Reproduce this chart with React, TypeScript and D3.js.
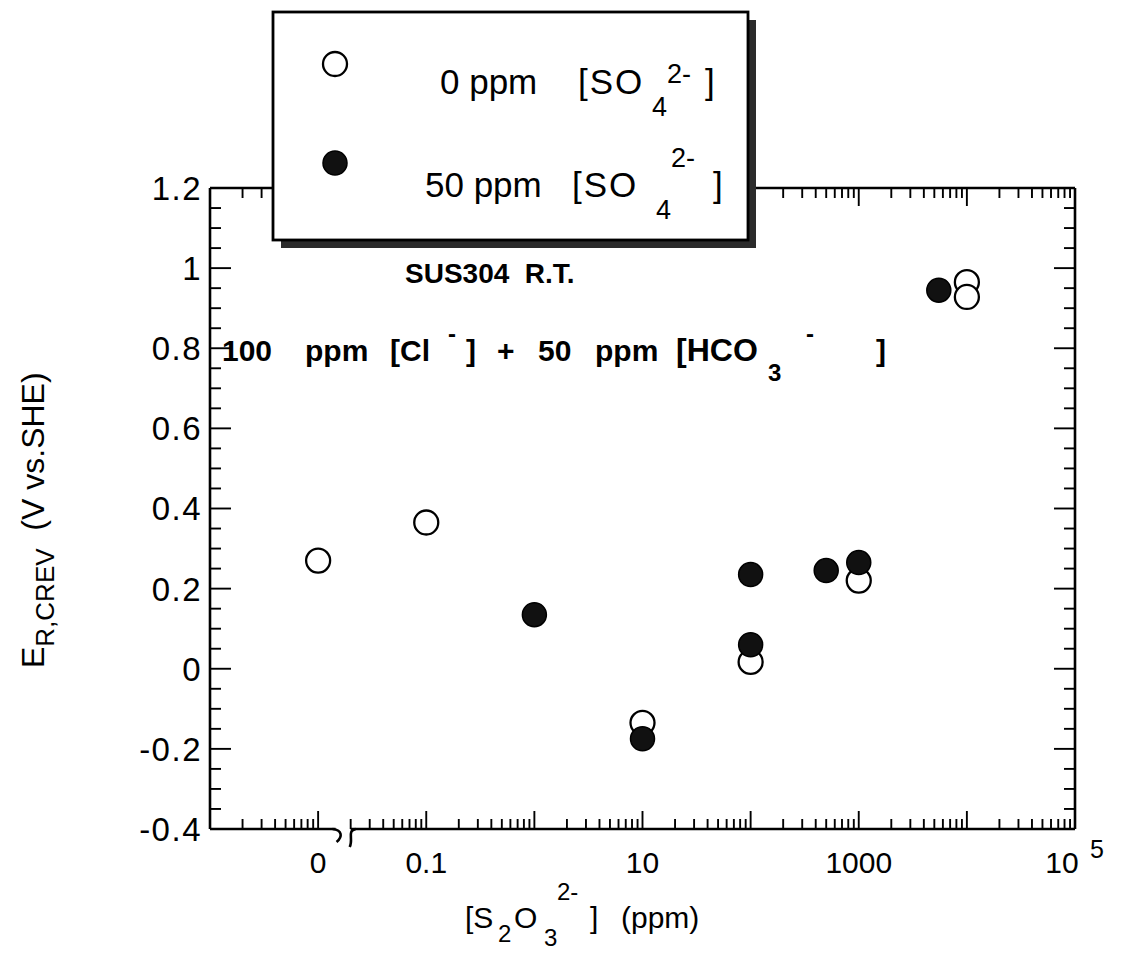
import React from "react";
import * as d3 from "d3";

// ---- data ----
const xZeroLabel = 0; // "0" ppm plotted on the left (broken) segment
const open0X = [0, 0.1, 10, 100, 1000, 10000, 10000];
const open0Y = [0.27, 0.365, -0.135, 0.017, 0.22, 0.965, 0.928];
const filled50X = [1, 10, 100, 100, 500, 1000, 5500];
const filled50Y = [0.135, -0.175, 0.06, 0.235, 0.245, 0.265, 0.945];

const xTickVals = [0, 0.1, 10, 1000, 100000];
const xTickText = ["0", "0.1", "10", "1000", "10"];
const xTickSup = ["", "", "", "", "5"];
const yTickVals = [-0.4, -0.2, 0, 0.2, 0.4, 0.6, 0.8, 1, 1.2];
const yTickText = ["-0.4", "-0.2", "0", "0.2", "0.4", "0.6", "0.8", "1", "1.2"];

const legendLabels = ["0 ppm", "50 ppm"];

// ---- layout ----
const W = 1124;
const H = 959;
const L = 210, R = 1075, T = 188, B = 829;
const ZERO_POS = 0.01; // where value 0 is drawn on the log axis
const BREAK_A = 0.0145, BREAK_B = 0.02;
const FONT = "'Liberation Sans', Arial, Helvetica, sans-serif";
const NB = "\u00A0";

const x = d3.scaleLog().domain([1e-3, 1e5]).range([L, R]);
const y = d3.scaleLinear().domain([-0.4, 1.2]).range([B, T]);
const xp = (v: number) => (v === xZeroLabel ? x(ZERO_POS) : x(v));

export default function App() {
  const majors: number[] = [];
  const minors: number[] = [];
  for (let d = -3; d <= 4; d++) {
    majors.push(Math.pow(10, d));
    for (let k = 2; k <= 9; k++) {
      const v = k * Math.pow(10, d);
      if (v > BREAK_A && v < BREAK_B * 0.999) continue;
      minors.push(v);
    }
  }
  majors.push(1e5);
  const majorsIn = majors.filter((v) => v > 1e-3 && v < 1e5 * 1.01);

  const yMinor = d3.range(-0.35, 1.2, 0.05).filter((v) => Math.abs(Math.round(v * 5) - v * 5) > 0.05);

  const sw = 2.6;
  const xA = x(BREAK_A), xB = x(BREAK_B);

  return (
    <svg width={W} height={H} style={{ position: "absolute", left: 0, top: 0, background: "#fff" }} fontFamily={FONT}>
      <rect x={0} y={0} width={W} height={H} fill="#fff" />
      {/* frame */}
      <g stroke="#000" strokeWidth={sw} fill="none">
        <line x1={L} y1={T} x2={L} y2={B} />
        <line x1={R} y1={T} x2={R} y2={B} />
        <line x1={L} y1={B} x2={xA} y2={B} />
        <line x1={xB} y1={B} x2={R} y2={B} />
        <line x1={L} y1={T} x2={xA} y2={T} />
        <line x1={xB} y1={T} x2={R} y2={T} />
        <path d={`M${xA - 3},${B} C${xA + 7},${B + 1} ${xA + 7},${B + 8} ${xA + 1},${B + 13}`} />
        <path d={`M${xB + 5},${B} C${xB - 4},${B + 2} ${xB + 3},${B + 10} ${xB - 1},${B + 18}`} />
      </g>
      {/* x ticks */}
      <g stroke="#000" strokeWidth={1.9}>
        {majorsIn.map((v, i) => (
          <g key={"xm" + i}>
            <line x1={x(v)} x2={x(v)} y1={B} y2={B - 18} />
            <line x1={x(v)} x2={x(v)} y1={T} y2={T + 18} />
          </g>
        ))}
        {minors.map((v, i) => (
          <g key={"xn" + i}>
            <line x1={x(v)} x2={x(v)} y1={B} y2={B - 10} />
            <line x1={x(v)} x2={x(v)} y1={T} y2={T + 10} />
          </g>
        ))}
      </g>
      {/* y ticks */}
      <g stroke="#000" strokeWidth={1.9}>
        {yTickVals.map((v, i) => (
          <g key={"ym" + i}>
            <line x1={L} x2={L + 21} y1={y(v)} y2={y(v)} />
            <line x1={R} x2={R - 21} y1={y(v)} y2={y(v)} />
          </g>
        ))}
        {yMinor.map((v, i) => (
          <g key={"yn" + i}>
            <line x1={L} x2={L + 11} y1={y(v)} y2={y(v)} />
            <line x1={R} x2={R - 11} y1={y(v)} y2={y(v)} />
          </g>
        ))}
      </g>
      {/* y tick labels */}
      <g fontSize={33} textAnchor="end" letterSpacing={1.5}>
        {yTickVals.map((v, i) => (
          <text key={"yl" + i} x={L - 8} y={y(v)} dy="0.36em">
            {yTickText[i]}
          </text>
        ))}
      </g>
      {/* x tick labels */}
      <g fontSize={30} textAnchor="middle">
        {xTickVals.map((v, i) =>
          xTickSup[i] ? (
            <g key={"xl" + i}>
              <text x={xp(v) - 13} y={873}>{xTickText[i]}</text>
              <text x={xp(v) + 22} y={858} fontSize={25}>{xTickSup[i]}</text>
            </g>
          ) : (
            <text key={"xl" + i} x={xp(v)} y={873}>{xTickText[i]}</text>
          )
        )}
      </g>
      {/* x axis title */}
      <g fontSize={30}>
        <text x={465} y={928}>[S</text>
        <text x={498} y={942} fontSize={24}>2</text>
        <text x={514} y={928}>O</text>
        <text x={544} y={946} fontSize={24}>3</text>
        <text x={557} y={900} fontSize={24}>2-</text>
        <text x={590} y={928}>]</text>
        <text x={621} y={928}>(ppm)</text>
      </g>
      {/* y axis title */}
      <text transform="translate(44,668) rotate(-90)" fontSize={32}>
        E
        <tspan fontSize={26} dy={10}>R,CREV</tspan>
        <tspan dy={-10}>{NB + NB + "(V vs.SHE)"}</tspan>
      </text>
      {/* annotations */}
      <text x={405} y={283} fontSize={28} fontWeight="bold">
        {"SUS304" + NB + NB + "R.T."}
      </text>
      <g fontSize={30} fontWeight="bold">
        <text x={222} y={361}>100</text>
        <text x={305} y={361}>ppm</text>
        <text x={390} y={361}>[Cl</text>
        <text x={448} y={342} fontSize={24}>-</text>
        <text x={466} y={361}>]</text>
        <text x={497} y={361}>+</text>
        <text x={538} y={361}>50</text>
        <text x={595} y={361}>ppm</text>
        <text x={676} y={361} fontSize={32}>[HCO</text>
        <text x={768} y={381} fontSize={24}>3</text>
        <text x={806} y={342} fontSize={24}>-</text>
        <text x={876} y={361}>]</text>
      </g>
      {/* data */}
      <g>
        {open0X.map((v, i) => (
          <circle key={"o" + i} cx={xp(v)} cy={y(open0Y[i])} r={12} fill="#fff" stroke="#000" strokeWidth={2.3} />
        ))}
        {filled50X.map((v, i) => (
          <circle key={"f" + i} cx={xp(v)} cy={y(filled50Y[i])} r={12} fill="#111" stroke="#000" strokeWidth={1.5} />
        ))}
      </g>
      {/* legend */}
      <rect x={281} y={20} width={475} height={228} fill="#2b2b2b" />
      <rect x={273} y={12} width={475} height={228} fill="#fff" stroke="#000" strokeWidth={2.8} />
      <circle cx={335} cy={64} r={12} fill="#fff" stroke="#000" strokeWidth={2.3} />
      <circle cx={335} cy={163} r={12} fill="#111" stroke="#000" strokeWidth={1.5} />
      <g fontSize={35}>
        <text x={440} y={94}>{legendLabels[0]}</text>
        <text x={578} y={94} letterSpacing={2}>[SO</text>
        <text x={652} y={116} fontSize={27}>4</text>
        <text x={667} y={83} fontSize={27}>2-</text>
        <text x={705} y={94}>]</text>
        <text x={425} y={197}>{legendLabels[1]}</text>
        <text x={572} y={197} letterSpacing={2}>[SO</text>
        <text x={656} y={219} fontSize={27}>4</text>
        <text x={671} y={167} fontSize={27}>2-</text>
        <text x={713} y={197}>]</text>
      </g>
    </svg>
  );
}
